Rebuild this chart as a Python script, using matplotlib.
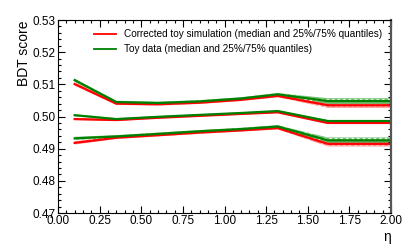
import matplotlib
matplotlib.use("Agg")
import matplotlib.pyplot as plt
from matplotlib.ticker import MultipleLocator
import numpy as np

plt.rcParams['font.family'] = ['Liberation Sans', 'DejaVu Sans']

# eta points
eta = [0.1, 0.35, 0.6, 0.85, 1.1, 1.32, 1.62, 2.0]

# corrected toy simulation: 75% quantile, median, 25% quantile
sim_q75 = [0.5101, 0.5040, 0.5038, 0.5043, 0.5052, 0.5064, 0.5035, 0.5035]
sim_med = [0.4992, 0.4989, 0.4996, 0.5002, 0.5008, 0.5013, 0.4980, 0.4980]
sim_q25 = [0.4918, 0.4934, 0.4942, 0.4950, 0.4957, 0.4964, 0.4915, 0.4915]
sim_err_q = [0.0005, 0.0004, 0.0004, 0.0004, 0.0004, 0.0004, 0.0008, 0.0008]
sim_err_m = [0.0003, 0.0003, 0.0002, 0.0002, 0.0002, 0.0002, 0.0003, 0.0003]

# toy data
dat_q75 = [0.5113, 0.5045, 0.5042, 0.5047, 0.5056, 0.5069, 0.5048, 0.5048]
dat_med = [0.5004, 0.4992, 0.4999, 0.5005, 0.5011, 0.5017, 0.4986, 0.4986]
dat_q25 = [0.4932, 0.4938, 0.4946, 0.4954, 0.4961, 0.4969, 0.4926, 0.4926]
dat_err_q = [0.0005, 0.0004, 0.0004, 0.0004, 0.0004, 0.0004, 0.0009, 0.0009]
dat_err_m = [0.0003, 0.0003, 0.0002, 0.0002, 0.0002, 0.0002, 0.0003, 0.0003]

fig = plt.figure(figsize=(4.07, 2.44), dpi=100)
ax = fig.add_axes([0.1425, 0.127, 0.8182, 0.791])

series = [
    (sim_q75, sim_err_q, '#ff0000', '#ff8080'),
    (sim_med, sim_err_m, '#ff0000', '#ff8080'),
    (sim_q25, sim_err_q, '#ff0000', '#ff8080'),
    (dat_q75, dat_err_q, '#008000', '#60b860'),
    (dat_med, dat_err_m, '#008000', '#60b860'),
    (dat_q25, dat_err_q, '#008000', '#60b860'),
]
for vals, err, col, light in series:
    v = np.array(vals)
    e = np.array(err)
    ax.fill_between(eta, v - e, v + e, facecolor=light, edgecolor='white',
                    hatch='...', linewidth=0, alpha=0.85)
    ax.plot(eta, v, color=col, lw=1.6)

ax.plot([], [], color='#ff0000', lw=1.3,
        label='Corrected toy simulation (median and 25%/75% quantiles)')
ax.plot([], [], color='#008000', lw=1.3,
        label='Toy data (median and 25%/75% quantiles)')
ax.legend(loc='upper left', bbox_to_anchor=(0.08, 1.0), frameon=False,
          fontsize=7.2, handlelength=2.2, handletextpad=0.8, labelspacing=0.5,
          borderaxespad=0.5)

ax.set_xlim(0, 2)
ax.set_ylim(0.47, 0.53)
ax.xaxis.set_major_locator(MultipleLocator(0.25))
ax.xaxis.set_minor_locator(MultipleLocator(0.05))
ax.yaxis.set_major_locator(MultipleLocator(0.01))
ax.yaxis.set_minor_locator(MultipleLocator(0.002))
ax.xaxis.set_major_formatter(matplotlib.ticker.FormatStrFormatter('%.2f'))
ax.yaxis.set_major_formatter(matplotlib.ticker.FormatStrFormatter('%.2f'))
ax.tick_params(which='both', direction='in', top=True, right=True,
               labelsize=8.5, width=0.8)
ax.tick_params(which='major', length=5, pad=1.5)
ax.tick_params(which='minor', length=2.5)
ax.spines['right'].set_color('#555555')
ax.spines['right'].set_linewidth(1.6)

ax.set_ylabel('BDT score', fontsize=10, loc='top', labelpad=1.5)
ax.set_xlabel('η', fontsize=10, loc='right', labelpad=2)

fig.savefig('out.png', dpi=100)
